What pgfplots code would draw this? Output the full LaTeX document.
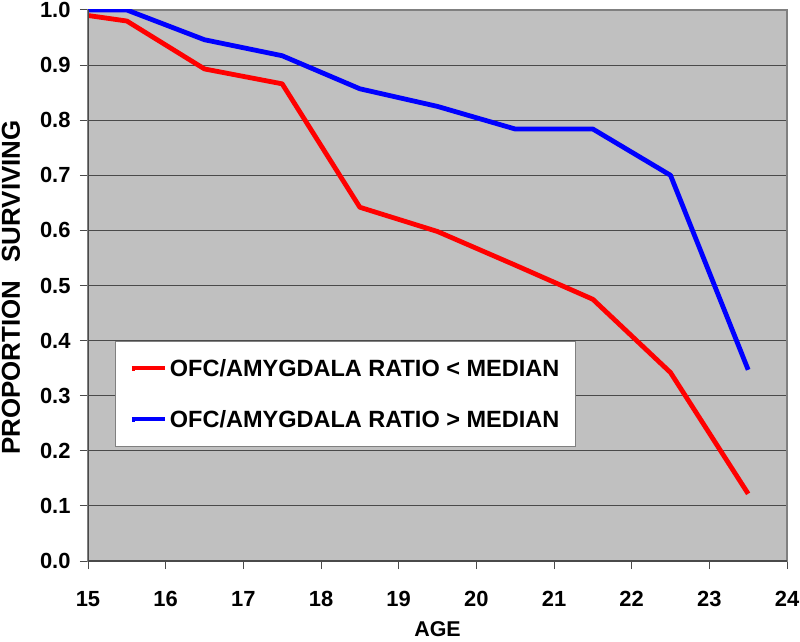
\documentclass[border=0pt]{standalone}
\usepackage{pgfplots}
\pgfplotsset{compat=1.18}
\usepackage{fontspec}
\setmainfont{Liberation Sans}
\definecolor{bggray}{HTML}{C0C0C0}
\definecolor{gridgray}{HTML}{4A4A4A}
\definecolor{framegray}{HTML}{808080}
\begin{document}
\begin{tikzpicture}
\begin{axis}[
  scale only axis,
  width=699bp, height=551bp,
  xmin=15, xmax=24, ymin=0, ymax=1,
  xtick={15,16,...,24},
  ytick={0,0.1,...,1.0},
  /pgf/number format/assume math mode=true,
  ticklabel style={font=\fontsize{22}{24}\selectfont\bfseries},
  xticklabel style={yshift=-19bp},
  yticklabel style={xshift=-6bp, /pgf/number format/.cd, fixed, fixed zerofill, precision=1},
  tick align=outside,
  major tick length=8bp,
  xtick pos=bottom, ytick pos=left,
  tick style={gridgray, line width=1bp},
  axis background/.style={fill=bggray},
  ymajorgrids,
  grid style={gridgray, line width=0.9bp},
  axis line style={framegray, line width=1.5bp},
  xlabel={AGE},
  ylabel={PROPORTION\hspace{18bp}SURVIVING},
  xlabel style={font=\fontsize{21.5}{24}\selectfont\bfseries, at={(rel axis cs:0.5,0)}, anchor=center, yshift=-68bp},
  ylabel style={font=\fontsize{26}{28}\selectfont\bfseries, at={(rel axis cs:0,0.5)}, anchor=center, yshift=77bp, xshift=-2bp},
  legend style={at={(rel axis cs:0.0386,0.3993)}, anchor=north west,
    fill=white, draw=framegray, line width=1bp,
    font=\fontsize{23.6}{25}\selectfont\bfseries,
    nodes={inner sep=2.5bp, text height=16.9bp, text depth=0bp},
    row sep=29bp, inner xsep=14bp, inner ysep=16bp},
  legend cell align=left,
  legend image code/.code={\path (0bp,0bp) -- (3.5bp,0bp); \draw[#1, line width=4bp] (3.5bp,0bp) -- (33.5bp,0bp);},
]
\addplot[red, line width=4.8bp, line join=round] coordinates {
(15,0.99) (15.5,0.98) (16.5,0.893) (17.5,0.866) (18.5,0.642) (19.5,0.598)
(20.5,0.537) (21.5,0.475) (22.5,0.342) (23.5,0.122)};
\addlegendentry{OFC/AMYGDALA RATIO < MEDIAN}
\addplot[blue, line width=4.8bp, line join=round] coordinates {
(15,1.0) (15.5,1.0) (16.5,0.946) (17.5,0.917) (18.5,0.857) (19.5,0.825)
(20.5,0.784) (21.5,0.784) (22.5,0.70) (23.5,0.347)};
\addlegendentry{OFC/AMYGDALA RATIO > MEDIAN}
\draw[gridgray, line width=1.5bp] (rel axis cs:0,1) -- (rel axis cs:0,0) -- (rel axis cs:1,0);
\coordinate (ll) at (rel axis cs:0,0);
\coordinate (ur) at (rel axis cs:1,1);
\end{axis}
\pgfresetboundingbox
\path ([xshift=-88bp,yshift=-80bp]ll) rectangle ([xshift=13bp,yshift=10bp]ur);
\end{tikzpicture}
\end{document}
